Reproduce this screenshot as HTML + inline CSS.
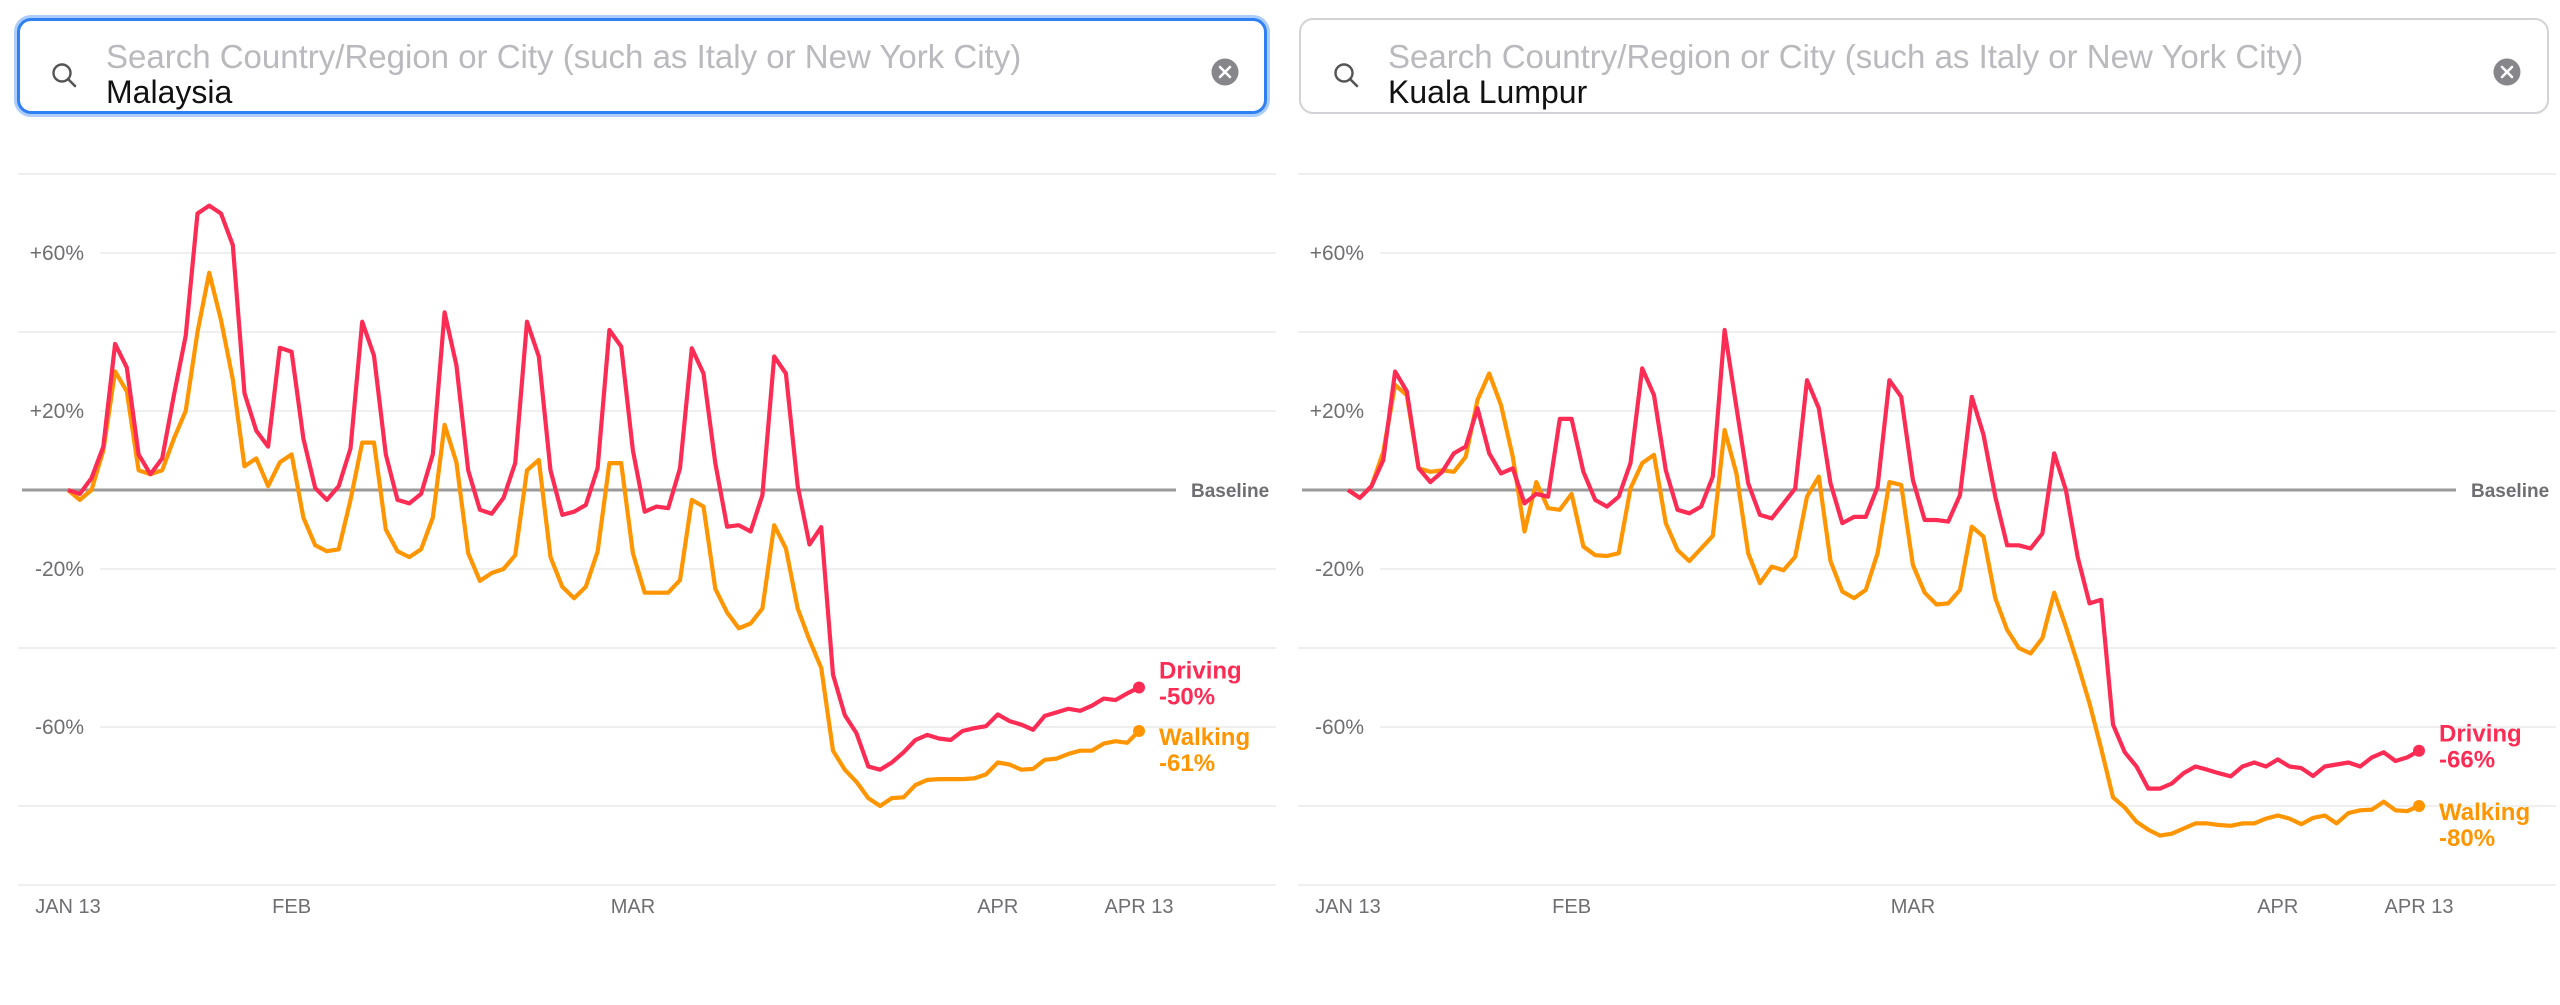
<!DOCTYPE html>
<html><head><meta charset="utf-8"><style>
html,body{margin:0;padding:0;background:#fff;width:2560px;height:1005px;overflow:hidden;font-family:"Liberation Sans",sans-serif}
.box{position:absolute;top:18px;height:96px;width:1250px;border-radius:14px;box-sizing:border-box;background:#fff}
.ph{position:absolute;left:86px;top:17px;font-size:33px;color:#b9b9be;white-space:nowrap}
.val{position:absolute;left:86px;top:53px;font-size:32px;color:#111;white-space:nowrap}
.ic{position:absolute;left:30px;top:40px}
.clr{position:absolute;left:1190px;top:36px}
svg#chart{position:absolute;left:0;top:0}
</style></head><body>
<div class="box" style="left:17px;border:3px solid #2f80f2;box-shadow:0 0 0 3px rgba(47,128,242,0.4)">
 <svg class="ic" width="30" height="30" viewBox="0 0 30 30"><circle cx="12" cy="12" r="8.5" fill="none" stroke="#555" stroke-width="2.4"/><line x1="18" y1="18" x2="25" y2="25" stroke="#555" stroke-width="2.6" stroke-linecap="round"/></svg>
 <div class="ph">Search Country/Region or City (such as Italy or New York City)</div>
 <div class="val">Malaysia</div>
 <svg class="clr" width="30" height="30" viewBox="0 0 30 30"><circle cx="15" cy="15" r="13.5" fill="#86868b"/><path d="M10 10L20 20M20 10L10 20" stroke="#fff" stroke-width="2.6" stroke-linecap="round"/></svg>
</div>
<div class="box" style="left:1299px;border:2px solid #d2d2d7">
 <svg class="ic" width="30" height="30" viewBox="0 0 30 30" style="left:31px;top:41px"><circle cx="12" cy="12" r="8.5" fill="none" stroke="#555" stroke-width="2.4"/><line x1="18" y1="18" x2="25" y2="25" stroke="#555" stroke-width="2.6" stroke-linecap="round"/></svg>
 <div class="ph" style="left:87px;top:18px">Search Country/Region or City (such as Italy or New York City)</div>
 <div class="val" style="left:87px;top:54px">Kuala Lumpur</div>
 <svg class="clr" width="30" height="30" viewBox="0 0 30 30" style="left:1191px;top:37px"><circle cx="15" cy="15" r="13.5" fill="#86868b"/><path d="M10 10L20 20M20 10L10 20" stroke="#fff" stroke-width="2.6" stroke-linecap="round"/></svg>
</div>
<svg id="chart" width="2560" height="1005" xmlns="http://www.w3.org/2000/svg"></svg>
<script>
const yTicks = [80, 60, 40, 20, 0, -20, -40, -60, -80, -100];
const yTickLabels = {"60": "+60%", "20": "+20%", "-20": "-20%", "-60": "-60%"};
const xTickDays = [0, 19, 48, 79, 91];
const xTickLabels = ["JAN 13", "FEB", "MAR", "APR", "APR 13"];
const myDriving = [0,-1,3,11,37,31,9,4,8,24,39,70,72,70,62,24.5,15,11,36,35,13,0.5,-2.5,1,10.5,42.6,34,9,-2.5,-3.4,-1,9,45,31.6,5,-5,-6,-2,6.8,42.6,33.8,5,-6.3,-5.5,-3.8,5.5,40.5,36.3,10,-5.5,-4.2,-4.6,5.5,35.9,29.5,6.8,-9.3,-8.9,-10.5,-1.3,33.8,29.5,1,-13.8,-9.4,-46.7,-57,-61.6,-70,-70.8,-69,-66.4,-63.3,-62,-62.9,-63.3,-61,-60.3,-59.8,-56.8,-58.5,-59.4,-60.7,-57.2,-56.3,-55.4,-55.9,-54.6,-52.8,-53.2,-51.5,-50];
const myWalking = [0,-2.5,0,10,30,25,5,4,5,13,20,40,55,43,28,6,8,1,7,9,-7,-14,-15.5,-15,-2.5,12,12,-10,-15.5,-17,-15,-7,16.5,7,-16,-23,-21,-20,-16.5,5,7.6,-17,-24.5,-27.4,-24.5,-15.6,6.8,6.8,-16,-26,-26,-26,-22.8,-2.5,-4.2,-25,-31,-35,-33.8,-30,-8.9,-14.8,-30,-38,-45,-66,-70.8,-73.9,-78,-80,-78,-77.8,-74.7,-73.4,-73.2,-73.2,-73.2,-73,-72,-69,-69.5,-70.8,-70.6,-68.3,-68,-66.8,-66,-66,-64.2,-63.6,-64,-61];
const klDriving = [0,-2,1,7.6,30,25,5.5,2,4.6,9.3,11,20.7,9.3,4.2,5.5,-3.4,-1,-1.7,18,18,4.6,-2.5,-4.2,-1.7,6.8,30.8,24,5,-5,-5.9,-4.2,3.4,40.5,21,1.7,-6.3,-7.2,-3.4,0.4,27.8,20.7,1.7,-8.4,-6.8,-6.8,0.8,27.8,23.6,2.5,-7.6,-7.6,-8,-1.3,23.6,14,-1.7,-14,-14,-14.8,-11,9.3,0,-17,-28.7,-27.8,-59.4,-66.4,-70,-75.6,-75.6,-74.3,-71.7,-70,-70.8,-71.7,-72.5,-70,-69,-70,-68.2,-70,-70.4,-72.4,-70,-69.5,-69,-70,-67.7,-66.4,-68.6,-67.7,-66];
const klWalking = [0,-2,1,9.7,26.6,24,5.5,4.6,5,4.6,8.4,22.8,29.5,21.5,8.4,-10.5,2,-4.6,-5,-1,-14.3,-16.5,-16.7,-16,0.4,6.8,8.9,-8.4,-15.2,-18,-14.8,-11.6,15.2,4.2,-16,-23.6,-19.4,-20.3,-16.9,-1.7,3.4,-18,-25.7,-27.4,-25.3,-16,2,1.3,-19,-26,-29,-28.7,-25.3,-9.3,-11.8,-27.4,-35.4,-40,-41.4,-37.5,-26,-34.6,-44,-54,-65.5,-77.8,-80.4,-84,-86,-87.5,-87,-85.7,-84.4,-84.4,-84.8,-85,-84.4,-84.4,-83.2,-82.4,-83.2,-84.6,-83,-82.4,-84.4,-81.8,-81.1,-80.9,-78.9,-81.1,-81.3,-80];
const panelNames = ["malaysia", "kuala-lumpur"];
const drivingSeries = [myDriving, klDriving];
const walkingSeries = [myWalking, klWalking];
const drivingLabels = ["-50%", "-66%"];
const walkingLabels = ["-61%", "-80%"];

const NS = "http://www.w3.org/2000/svg";
const svg = document.getElementById("chart");
function mk(tag, attrs, parent) {
  const e = document.createElementNS(NS, tag);
  for (const k in attrs) e.setAttribute(k, attrs[k]);
  (parent || svg).appendChild(e);
  return e;
}
const RED = "#fd2c55", ORANGE = "#ff9500";
for (let p = 0; p < 2; p++) {
  const ox = p * 1280;
  const g = mk("g", {});
  
  
  const x = d => ox + 68 + d * (1139 - 68) / 91;
  const y = v => 490 - v * 3.95;
  yTicks.forEach(t => {
    if (t === 0) return;
    const gl = mk("line", {x1: ox + (yTickLabels[t] ? 100 : 18), x2: ox + 1276, y1: y(t), y2: y(t), stroke: "#efefef", "stroke-width": 2}, g);
    
    
    if (yTickLabels[t]) {
      const tl = mk("text", {x: ox + 84, y: y(t) + 7, "text-anchor": "end", "font-size": 21, fill: "#6e6e73"}, g);
      tl.textContent = yTickLabels[t];
      
      
    }
  });
  const bl = mk("line", {x1: ox + 22, x2: ox + 1176, y1: y(0), y2: y(0), stroke: "#9a9a9a", "stroke-width": 3}, g);
  
  
  const bt = mk("text", {x: ox + 1191, y: y(0) + 7, "font-size": 19, fill: "#6e6e73", "font-weight": "bold"}, g);
  bt.textContent = "Baseline";
  
  
  xTickDays.forEach((d, i) => {
    const xt = mk("text", {x: x(d), y: 913, "text-anchor": "middle", "font-size": 20, fill: "#6e6e73"}, g);
    xt.textContent = xTickLabels[i];
    
    
  });
  [[walkingSeries[p], ORANGE, 'walking'], [drivingSeries[p], RED, 'driving']].forEach(([s, c, n]) => {
    const pts = s.map((v, i) => x(i).toFixed(1) + "," + y(v).toFixed(1)).join(" ");
    const pl = mk("polyline", {points: pts, fill: "none", stroke: c, "stroke-width": 4.2, "stroke-linejoin": "round"}, g);
    
    
    const dot = mk("circle", {cx: x(s.length - 1), cy: y(s[s.length - 1]), r: 6, fill: c}, g);
    
    
  });
  const dEnd = y(drivingSeries[p][drivingSeries[p].length - 1]);
  const wEnd = y(walkingSeries[p][walkingSeries[p].length - 1]);
  const labels = [["Driving", drivingLabels[p], RED, dEnd - 18, 'driving'], ["Walking", walkingLabels[p], ORANGE, wEnd + 5, 'walking']];
  labels.forEach(([a, b, c, cy, n]) => {
    const t1 = mk("text", {x: ox + 1159, y: cy + 9, "font-size": 24, fill: c, "font-weight": "bold"}, g);
    t1.textContent = a;
    
    
    const t2 = mk("text", {x: ox + 1159, y: cy + 35, "font-size": 24, fill: c, "font-weight": "bold"}, g);
    t2.textContent = b;
    
    
  });
}
</script>
</body></html>
